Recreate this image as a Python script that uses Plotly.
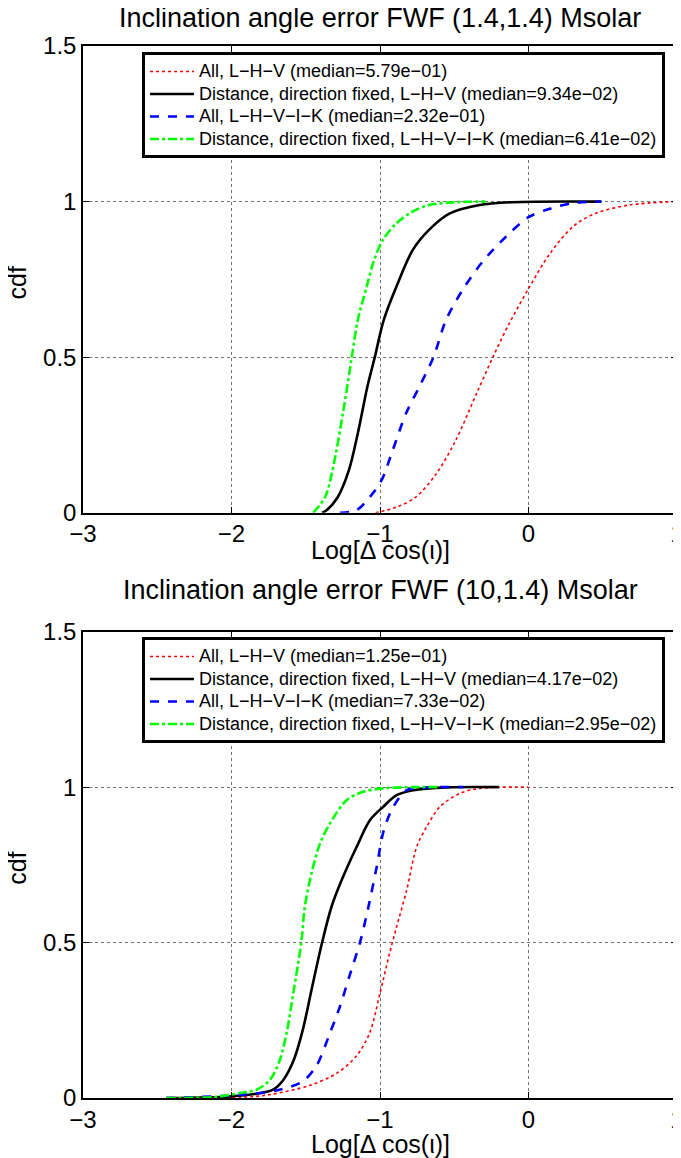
import plotly.graph_objects as go

# ---------------- data (log10 of error, cdf) ----------------
# Top panel: (1.4,1.4) Msolar
top_lhv_all_x = [-1.03, -0.89, -0.76, -0.62, -0.49, -0.35, -0.24, -0.13, 0.0, 0.14, 0.30, 0.45, 0.68, 0.99]
top_lhv_all_y = [0.0, 0.018, 0.05, 0.126, 0.233, 0.383, 0.5, 0.608, 0.72, 0.83, 0.92, 0.962, 0.989, 1.0]

top_lhv_fix_x = [-1.39, -1.36, -1.285, -1.21, -1.15, -1.085, -1.035, -0.975, -0.89, -0.78, -0.67, -0.53, -0.33, -0.11, 0.49]
top_lhv_fix_y = [0.0, 0.008, 0.05, 0.136, 0.254, 0.405, 0.5, 0.619, 0.726, 0.844, 0.909, 0.962, 0.989, 0.998, 1.0]

top_lhvik_all_x = [-1.27, -1.16, -1.07, -0.99, -0.915, -0.825, -0.735, -0.64, -0.556, -0.444, -0.309, -0.152, 0.0, 0.15, 0.30, 0.49]
top_lhvik_all_y = [0.0, 0.008, 0.05, 0.104, 0.2, 0.319, 0.405, 0.5, 0.619, 0.716, 0.807, 0.887, 0.95, 0.978, 0.995, 1.0]

top_lhvik_fix_x = [-1.45, -1.37, -1.32, -1.25, -1.19, -1.15, -1.09, -1.04, -0.98, -0.89, -0.78, -0.67, -0.49, -0.29]
top_lhvik_fix_y = [0.0, 0.05, 0.136, 0.319, 0.5, 0.619, 0.726, 0.812, 0.877, 0.93, 0.968, 0.989, 0.998, 1.0]

# Bottom panel: (10,1.4) Msolar
bot_lhv_all_x = [-2.44, -1.90, -1.74, -1.47, -1.29, -1.16, -1.07, -1.0, -0.935, -0.888, -0.82, -0.753, -0.685, -0.596, -0.461, -0.326, 0.0]
bot_lhv_all_y = [0.0, 0.003, 0.011, 0.041, 0.080, 0.134, 0.209, 0.337, 0.466, 0.551, 0.669, 0.808, 0.873, 0.937, 0.980, 0.996, 1.0]

bot_lhv_fix_x = [-2.44, -2.01, -1.83, -1.72, -1.65, -1.58, -1.52, -1.461, -1.39, -1.326, -1.258, -1.157, -1.067, -0.978, -0.888, -0.775, -0.55, -0.2]
bot_lhv_fix_y = [0.0, 0.005, 0.014, 0.027, 0.059, 0.123, 0.219, 0.348, 0.5, 0.616, 0.701, 0.808, 0.894, 0.937, 0.974, 0.990, 0.999, 1.0]

bot_lhvik_all_x = [-2.44, -1.90, -1.67, -1.52, -1.43, -1.337, -1.27, -1.20, -1.135, -1.08, -1.022, -0.975, -0.91, -0.82, -0.663, -0.44]
bot_lhvik_all_y = [0.0, 0.011, 0.027, 0.054, 0.102, 0.209, 0.294, 0.401, 0.5, 0.61, 0.744, 0.86, 0.937, 0.990, 0.999, 1.0]

bot_lhvik_fix_x = [-2.44, -2.12, -1.94, -1.83, -1.74, -1.674, -1.629, -1.584, -1.53, -1.506, -1.461, -1.404, -1.337, -1.225, -1.112, -0.978, -0.775, -0.6]
bot_lhvik_fix_y = [0.0, 0.003, 0.016, 0.027, 0.059, 0.123, 0.209, 0.337, 0.5, 0.616, 0.723, 0.819, 0.883, 0.958, 0.985, 0.996, 1.0, 1.0]

top_names = ["All, L\u2212H\u2212V (median=5.79e\u221201)",
             "Distance, direction fixed, L\u2212H\u2212V (median=9.34e\u221202)",
             "All, L\u2212H\u2212V\u2212I\u2212K (median=2.32e\u221201)",
             "Distance, direction fixed, L\u2212H\u2212V\u2212I\u2212K (median=6.41e\u221202)"]
bot_names = ["All, L\u2212H\u2212V (median=1.25e\u221201)",
             "Distance, direction fixed, L\u2212H\u2212V (median=4.17e\u221202)",
             "All, L\u2212H\u2212V\u2212I\u2212K (median=7.33e\u221202)",
             "Distance, direction fixed, L\u2212H\u2212V\u2212I\u2212K (median=2.95e\u221202)"]

titles = ["Inclination angle error FWF (1.4,1.4) Msolar",
          "Inclination angle error FWF (10,1.4) Msolar"]
x_label = "Log[\u0394 cos(\u03b9)]"
y_label = "cdf"
x_ticks = [-3, -2, -1, 0, 1]
x_ticktext = ["\u22123", "\u22122", "\u22121", "0", "1"]
y_ticks = [0, 0.5, 1, 1.5]
y_ticktext = ["0", "0.5", "1", "1.5"]

styles = [dict(color="#FF0000", width=1.6, dash="dot"),
          dict(color="#000000", width=2.6, dash="solid"),
          dict(color="#0000FF", width=2.6, dash="dash"),
          dict(color="#00FF00", width=2.6, dash="dashdot")]

FONT = "Liberation Sans, Arial, Helvetica, sans-serif"


def legend_label(text):
    # larger text than the legend's nominal size keeps the rows tight
    return '<span style="font-size:18px">' + text + '</span>'


fig = go.Figure()

top_series = [(top_lhv_all_x, top_lhv_all_y), (top_lhv_fix_x, top_lhv_fix_y),
              (top_lhvik_all_x, top_lhvik_all_y), (top_lhvik_fix_x, top_lhvik_fix_y)]
bot_series = [(bot_lhv_all_x, bot_lhv_all_y), (bot_lhv_fix_x, bot_lhv_fix_y),
              (bot_lhvik_all_x, bot_lhvik_all_y), (bot_lhvik_fix_x, bot_lhvik_fix_y)]

for (xs, ys), name, st in zip(top_series, top_names, styles):
    fig.add_trace(go.Scatter(x=xs, y=ys, mode="lines", name=legend_label(name),
                             line=dict(shape="spline", smoothing=0.9, **st),
                             xaxis="x", yaxis="y", legend="legend"))
for (xs, ys), name, st in zip(bot_series, bot_names, styles):
    fig.add_trace(go.Scatter(x=xs, y=ys, mode="lines", name=legend_label(name),
                             line=dict(shape="spline", smoothing=0.9, **st),
                             xaxis="x2", yaxis="y2", legend="legend2"))

axis_common = dict(showline=True, linecolor="black", linewidth=1.5, mirror="ticks",
                   ticks="inside", ticklen=6, tickwidth=1, tickcolor="black",
                   showgrid=True, gridcolor="rgba(0,0,0,0.55)", griddash="dot", gridwidth=1,
                   zeroline=False, automargin=False, ticklabeloverflow="allow",
                   tickfont=dict(size=24, color="black", family=FONT))

xa = dict(axis_common, range=[-3, 1], tickvals=x_ticks, ticktext=x_ticktext, ticklabelstandoff=-1)
ya = dict(axis_common, range=[0, 1.5], tickvals=y_ticks, ticktext=y_ticktext)

top_dom = [0.5563, 1.0]
bot_dom = [0.0, 0.4433]

legend_common = dict(x=0.0993, xanchor="left", yanchor="top", bgcolor="white",
                     bordercolor="black", borderwidth=3, itemwidth=44,
                     font=dict(size=15, color="black", family=FONT), tracegroupgap=0,
                     itemclick=False)

title_font = dict(size=27, color="black", family=FONT)
label_font = dict(size=25, color="black", family=FONT)

# The page body has an 8px default margin, so the figure is sized 8px smaller
fig.update_layout(
    width=673, height=1150,
    margin=dict(l=75, r=4, t=38, b=60, autoexpand=False),
    paper_bgcolor="white", plot_bgcolor="white",
    font=dict(family=FONT, color="black"),
    xaxis=dict(xa, domain=[0, 1], anchor="y"),
    yaxis=dict(ya, domain=top_dom, anchor="x"),
    xaxis2=dict(xa, domain=[0, 1], anchor="y2"),
    yaxis2=dict(ya, domain=bot_dom, anchor="x2"),
    legend=dict(legend_common, y=0.994),
    legend2=dict(legend_common, y=0.438),
    showlegend=True,
    annotations=[
        dict(text=titles[0], x=0.5, xref="paper", y=1.0, yref="paper", yshift=28,
             showarrow=False, xanchor="center", yanchor="middle", font=title_font),
        dict(text=titles[1], x=0.5, xref="paper", y=bot_dom[1], yref="paper", yshift=42,
             showarrow=False, xanchor="center", yanchor="middle", font=title_font),
        dict(text=x_label, x=0.5, xref="paper", y=top_dom[0], yref="paper", yshift=-37,
             showarrow=False, xanchor="center", yanchor="middle", font=label_font),
        dict(text=x_label, x=0.5, xref="paper", y=bot_dom[0], yref="paper", yshift=-46,
             showarrow=False, xanchor="center", yanchor="middle", font=label_font),
        dict(text=y_label, x=0, xref="paper", xshift=-66, y=sum(top_dom) / 2, yref="paper", yshift=-4,
             textangle=-90, showarrow=False, xanchor="center", yanchor="middle", font=label_font),
        dict(text=y_label, x=0, xref="paper", xshift=-66, y=sum(bot_dom) / 2, yref="paper", yshift=-4,
             textangle=-90, showarrow=False, xanchor="center", yanchor="middle", font=label_font),
    ],
)

fig.write_html("out.html")
